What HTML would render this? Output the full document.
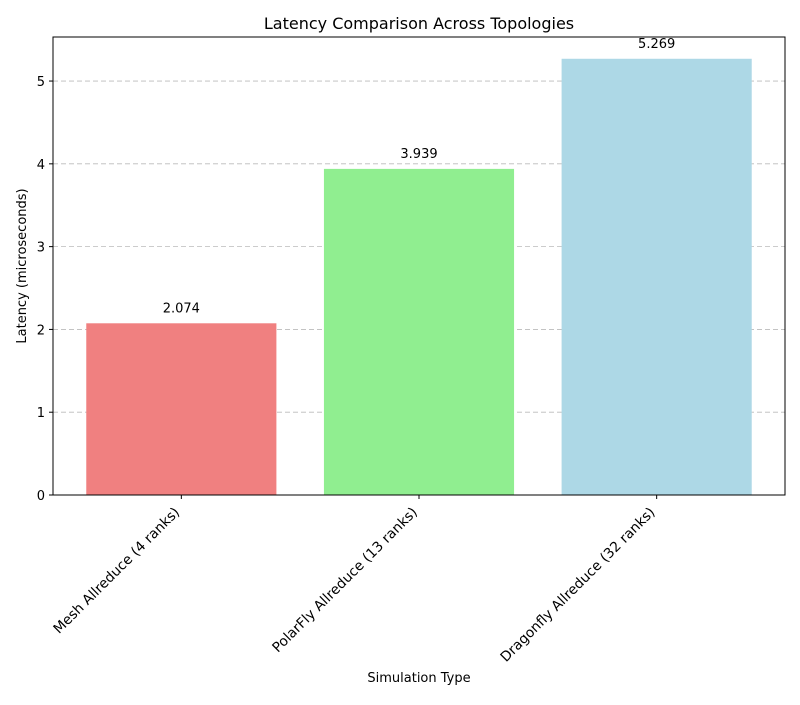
<!DOCTYPE html>
<html><head><meta charset="utf-8"><style>
body{margin:0;background:#fff;font-family:"Liberation Sans","DejaVu Sans",sans-serif;}
</style></head><body>
<svg id="chart" width="800" height="700" xmlns="http://www.w3.org/2000/svg" font-family="DejaVu Sans, Liberation Sans, sans-serif">
<rect width="800" height="700" fill="#fff"/>
<text x="419" y="29" text-anchor="middle" font-size="16">Latency Comparison Across Topologies</text>
<g id="grid"></g><g id="bars"></g><g id="yaxis"></g><g id="xaxis"></g>
<rect x="53" y="37" width="732" height="458" fill="none" stroke="#000" stroke-width="1"/>
<text x="419" y="682" text-anchor="middle" font-size="13">Simulation Type</text>
<text transform="translate(26,266) rotate(-90)" text-anchor="middle" font-size="13">Latency (microseconds)</text>
</svg>
<script>
const categories=["Mesh Allreduce (4 ranks)","PolarFly Allreduce (13 ranks)","Dragonfly Allreduce (32 ranks)"];
const values=[2.074,3.939,5.269];
const valueLabels=["2.074","3.939","5.269"];
const colors=["#f08080","#90ee90","#add8e6"];
const yTicks=[0,1,2,3,4,5];
const NS="http://www.w3.org/2000/svg";
const L=53,R=785,T=37,B=495,ymax=5.532,xmin=-0.54,xmax=2.54;
const y=v=>B-v/ymax*(B-T);
const x=i=>L+(i-xmin)/(xmax-xmin)*(R-L);
const bw=0.8*(R-L)/(xmax-xmin);
function mk(t,a,p){const e=document.createElementNS(NS,t);for(const k in a)e.setAttribute(k,a[k]);document.getElementById(p).appendChild(e);return e;}
yTicks.forEach(t=>{
  if(t>0){const g=mk("line",{x1:L,x2:R,y1:y(t),y2:y(t),stroke:"#bbb","stroke-dasharray":"5,3","stroke-width":0.8},"grid");
  
  }
  mk("line",{x1:L-4,x2:L,y1:y(t),y2:y(t),stroke:"#000"},"yaxis");
  const tx=mk("text",{x:L-8,y:y(t)+5,"text-anchor":"end","font-size":13},"yaxis");tx.textContent=t;
  
  
});
categories.forEach((c,i)=>{
  const r=mk("rect",{x:x(i)-bw/2,y:y(values[i]),width:bw,height:B-y(values[i]),fill:colors[i]},"bars");
  
  
  const v=mk("text",{x:x(i),y:y(values[i])-11,"text-anchor":"middle","font-size":13},"bars");v.textContent=valueLabels[i];
  
  
  mk("line",{x1:x(i),x2:x(i),y1:B,y2:B+4,stroke:"#000"},"xaxis");
  const t=mk("text",{transform:`translate(${x(i)-1},${B+18}) rotate(-45)`,"text-anchor":"end","font-size":13.8},"xaxis");t.textContent=c;
  
  
});
</script>
</body></html>
